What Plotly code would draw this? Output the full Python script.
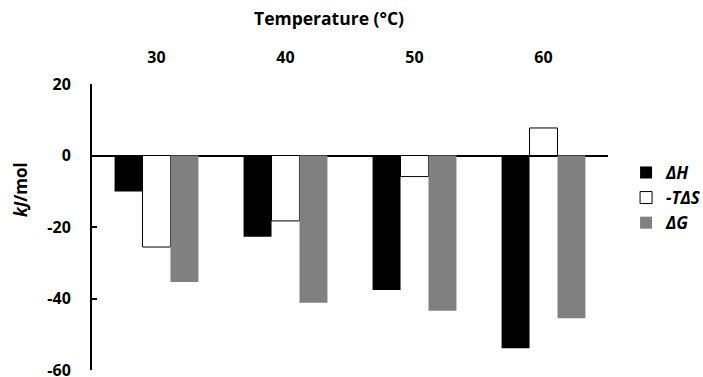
import plotly.graph_objects as go

temperatures = ["30", "40", "50", "60"]
dH = [-10.1, -22.7, -37.6, -53.9]
mTdS = [-25.6, -18.3, -5.9, 7.7]
dG = [-35.4, -41.2, -43.4, -45.5]
y_ticks = [-60, -40, -20, 0, 20]
y_tick_text = ["-60", "-40", "-20", "0", "20"]

FONT = "Open Sans"

fig = go.Figure()
fig.add_trace(go.Bar(x=temperatures, y=dH, name="<b><i>ΔH</i></b>",
                     marker=dict(color="black", line=dict(width=0))))
fig.add_trace(go.Bar(x=temperatures, y=mTdS, name="<b><i>-TΔS</i></b>",
                     marker=dict(color="white", line=dict(color="black", width=1))))
fig.add_trace(go.Bar(x=temperatures, y=dG, name="<b><i>ΔG</i></b>",
                     marker=dict(color="#808080", line=dict(width=0))))

fig.update_layout(
    width=703, height=377,
    margin=dict(l=92, r=95, t=84, b=7, autoexpand=False),
    paper_bgcolor="white", plot_bgcolor="white",
    barmode="group", bargap=0.35, bargroupgap=0,
    font=dict(family=FONT, size=16, color="black"),
    showlegend=True,
    legend=dict(x=1.035, y=0.752, xanchor="left", yanchor="top",
                font=dict(family=FONT, size=17, color="black"),
                tracegroupgap=0, itemwidth=30, bgcolor="rgba(0,0,0,0)"),
    xaxis=dict(side="top", type="category", showline=False, showgrid=False,
               ticks="", tickfont=dict(family=FONT, size=16, color="black", weight="bold"),
               ticklabelstandoff=17, zeroline=False, automargin=False),
    yaxis=dict(range=[-60, 20], tickvals=y_ticks, ticktext=y_tick_text, showgrid=False,
               showline=True, linecolor="black", linewidth=2,
               ticks="inside", ticklen=5, tickwidth=2, tickcolor="black",
               tickfont=dict(family=FONT, size=16, color="black", weight="bold"),
               ticklabelstandoff=16, ticklabeloverflow="allow", automargin=False,
               zeroline=True, zerolinecolor="black", zerolinewidth=2),
    annotations=[
        dict(text="<b>Temperature (°C)</b>", x=329, y=18, xref="paper", yref="paper",
             xanchor="center", yanchor="middle",
             showarrow=False, font=dict(family=FONT, size=17.5, color="black")),
        dict(text="<b><i>kJ</i>/mol</b>", x=20, y=190, xref="paper", yref="paper",
             xanchor="center", yanchor="middle",
             textangle=-90, showarrow=False, font=dict(family=FONT, size=17, color="black")),
    ],
)

# convert annotation pixel positions to paper coords
pw = 703 - 92 - 95
ph = 377 - 84 - 7
for ann in fig.layout.annotations:
    px, py = ann.x, ann.y
    ann.x = (px - 92) / pw
    ann.y = 1 - (py - 84) / ph

fig.write_html("out.html")
